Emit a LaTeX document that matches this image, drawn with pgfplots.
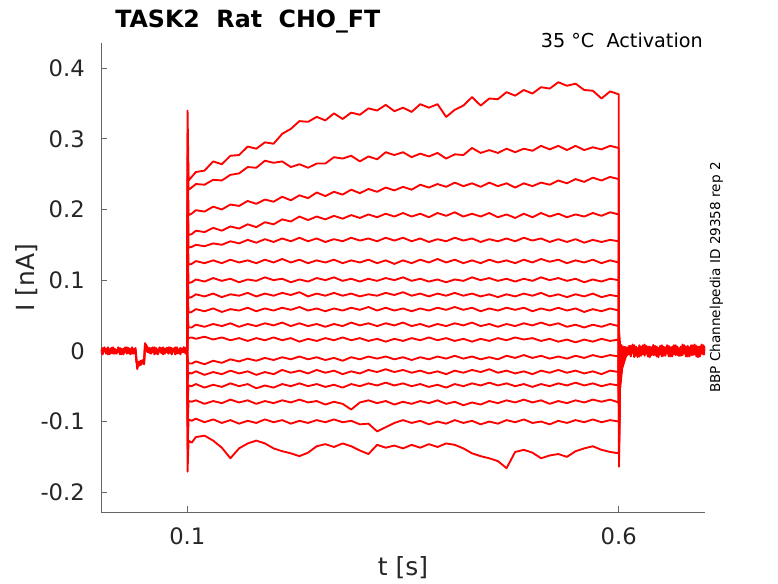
\documentclass[border=0pt]{standalone}
\usepackage{fontspec}
\setmainfont{DejaVu Sans}
\usepackage{pgfplots}
\usepackage{pgfplotstable}
\pgfplotsset{compat=1.18}

% pre-pulse baseline (three representative traces)
\pgfplotstableread{
t b1 b2 b3
0.000 0.003 -0.004 0.001
0.002 -0.002 0.004 -0.005
0.004 0.005 -0.001 0.003
0.006 -0.004 0.003 -0.002
0.008 0.002 -0.005 0.005
0.010 -0.005 0.002 -0.001
0.012 0.004 -0.003 0.004
0.014 -0.001 0.005 -0.004
0.016 0.003 -0.004 0.002
0.018 -0.004 0.001 -0.003
0.020 0.005 -0.002 0.004
0.022 -0.002 0.004 -0.005
0.024 0.003 -0.005 0.002
0.026 -0.005 0.003 -0.001
0.028 0.002 -0.001 0.005
0.030 -0.003 0.005 -0.004
0.032 0.004 -0.003 0.001
0.034 -0.001 0.002 -0.005
0.036 0.005 -0.004 0.003
0.038 -0.004 0.003 -0.002
0.040 0.002 -0.002 0.004
0.041 -0.012 -0.016 -0.010
0.042 -0.026 -0.019 -0.022
0.044 -0.015 -0.021 -0.017
0.046 -0.019 -0.014 -0.020
0.048 -0.013 -0.018 -0.015
0.050 -0.017 -0.012 -0.019
0.051 0.011 0.008 0.006
0.052 0.006 0.009 0.003
0.054 0.001 0.005 -0.002
0.056 0.004 -0.003 0.002
0.058 -0.003 0.004 -0.004
0.060 0.005 -0.002 0.003
0.062 -0.002 0.005 -0.005
0.064 0.004 -0.004 0.002
0.066 -0.005 0.002 -0.001
0.068 0.003 -0.001 0.005
0.070 -0.003 0.004 -0.003
0.072 0.005 -0.005 0.002
0.074 -0.001 0.003 -0.004
0.076 0.004 -0.002 0.004
0.078 -0.004 0.005 -0.002
0.080 0.002 -0.003 0.005
0.082 -0.005 0.004 -0.001
0.084 0.003 -0.001 0.003
0.086 -0.002 0.005 -0.005
0.088 0.005 -0.004 0.002
0.090 -0.003 0.002 -0.003
0.092 0.004 -0.005 0.004
0.094 -0.001 0.003 -0.002
0.096 0.005 -0.002 0.005
0.098 -0.004 0.004 -0.003
0.100 0.000 0.000 0.000
}\pretab

% 17 voltage steps, 0.1 s to 0.612 s
\pgfplotstableread{
t y1 y2 y3 y4 y5 y6 y7 y8 y9 y10 y11 y12 y13 y14 y15 y16 y17
0.1000 0 0 0 0 0 0 0 0 0 0 0 0 0 0 0 0 0
0.1003 0.340 0.308 0.276 0.244 0.212 0.180 0.148 0.116 0.084 0.053 0.021 -0.011 -0.043 -0.075 -0.107 -0.139 -0.171
0.1015 0.241 0.228 0.192 0.164 0.146 0.122 0.096 0.075 0.054 0.033 0.018 -0.018 -0.031 -0.049 -0.071 -0.097 -0.127
0.105 0.246 0.231 0.194 0.165 0.147 0.123 0.097 0.076 0.055 0.033 0.019 -0.018 -0.032 -0.050 -0.072 -0.099 -0.130
0.11 0.253 0.236 0.199 0.170 0.150 0.127 0.101 0.080 0.059 0.037 0.017 -0.015 -0.029 -0.047 -0.070 -0.096 -0.122
0.12 0.255 0.235 0.197 0.168 0.148 0.124 0.098 0.077 0.056 0.034 0.020 -0.019 -0.034 -0.052 -0.075 -0.101 -0.120
0.13 0.268 0.242 0.204 0.174 0.152 0.128 0.103 0.081 0.060 0.038 0.016 -0.014 -0.030 -0.048 -0.071 -0.097 -0.127
0.14 0.264 0.241 0.200 0.170 0.150 0.124 0.099 0.076 0.055 0.035 0.019 -0.017 -0.033 -0.051 -0.074 -0.102 -0.137
0.15 0.276 0.249 0.207 0.176 0.155 0.129 0.102 0.080 0.059 0.039 0.015 -0.012 -0.028 -0.046 -0.069 -0.098 -0.152
0.16 0.277 0.251 0.205 0.173 0.152 0.125 0.097 0.078 0.057 0.034 0.018 -0.015 -0.032 -0.050 -0.073 -0.103 -0.138
0.17 0.289 0.260 0.212 0.179 0.157 0.128 0.101 0.082 0.061 0.038 0.014 -0.011 -0.029 -0.047 -0.070 -0.099 -0.131
0.18 0.286 0.259 0.208 0.175 0.153 0.124 0.099 0.077 0.056 0.035 0.018 -0.014 -0.034 -0.053 -0.075 -0.102 -0.127
0.19 0.295 0.269 0.214 0.182 0.158 0.129 0.104 0.081 0.060 0.039 0.015 -0.010 -0.030 -0.049 -0.071 -0.097 -0.131
0.20 0.293 0.266 0.211 0.179 0.154 0.125 0.100 0.078 0.057 0.036 0.019 -0.013 -0.033 -0.052 -0.074 -0.101 -0.138
0.21 0.307 0.268 0.218 0.186 0.159 0.130 0.102 0.082 0.061 0.040 0.015 -0.009 -0.027 -0.047 -0.070 -0.098 -0.142
0.22 0.314 0.260 0.213 0.183 0.155 0.125 0.097 0.079 0.058 0.035 0.018 -0.012 -0.031 -0.050 -0.073 -0.103 -0.145
0.23 0.325 0.264 0.220 0.190 0.160 0.129 0.101 0.083 0.062 0.039 0.013 -0.008 -0.028 -0.046 -0.069 -0.099 -0.149
0.24 0.324 0.259 0.216 0.185 0.155 0.124 0.098 0.077 0.057 0.035 0.017 -0.012 -0.032 -0.050 -0.073 -0.102 -0.144
0.25 0.331 0.265 0.224 0.190 0.159 0.128 0.103 0.081 0.060 0.038 0.014 -0.009 -0.027 -0.047 -0.071 -0.098 -0.135
0.26 0.326 0.265 0.219 0.186 0.154 0.125 0.100 0.078 0.056 0.034 0.018 -0.013 -0.031 -0.051 -0.076 -0.101 -0.132
0.27 0.336 0.274 0.225 0.191 0.158 0.129 0.104 0.082 0.060 0.038 0.015 -0.010 -0.028 -0.048 -0.072 -0.097 -0.136
0.28 0.328 0.272 0.221 0.187 0.155 0.124 0.099 0.078 0.057 0.035 0.019 -0.014 -0.033 -0.052 -0.075 -0.101 -0.131
0.29 0.337 0.276 0.228 0.192 0.160 0.128 0.102 0.081 0.061 0.040 0.015 -0.009 -0.029 -0.047 -0.083 -0.099 -0.135
0.30 0.334 0.268 0.223 0.188 0.156 0.125 0.098 0.077 0.058 0.036 0.018 -0.012 -0.032 -0.050 -0.073 -0.104 -0.141
0.31 0.343 0.275 0.229 0.193 0.159 0.129 0.102 0.080 0.062 0.039 0.014 -0.008 -0.027 -0.046 -0.070 -0.103 -0.146
0.32 0.340 0.271 0.225 0.189 0.155 0.124 0.099 0.078 0.057 0.035 0.017 -0.011 -0.030 -0.049 -0.074 -0.114 -0.133
0.33 0.348 0.281 0.231 0.194 0.160 0.128 0.103 0.082 0.061 0.039 0.013 -0.008 -0.026 -0.045 -0.071 -0.108 -0.137
0.34 0.339 0.277 0.227 0.190 0.156 0.123 0.100 0.079 0.057 0.036 0.017 -0.012 -0.030 -0.049 -0.076 -0.102 -0.134
0.35 0.344 0.281 0.232 0.195 0.160 0.128 0.104 0.083 0.060 0.040 0.014 -0.009 -0.027 -0.046 -0.072 -0.098 -0.138
0.36 0.338 0.274 0.228 0.190 0.155 0.124 0.099 0.078 0.056 0.035 0.018 -0.013 -0.031 -0.050 -0.075 -0.102 -0.133
0.37 0.349 0.279 0.235 0.194 0.159 0.129 0.102 0.081 0.060 0.038 0.015 -0.009 -0.028 -0.047 -0.071 -0.099 -0.137
0.38 0.344 0.275 0.231 0.189 0.154 0.125 0.098 0.077 0.057 0.034 0.019 -0.012 -0.032 -0.051 -0.074 -0.104 -0.132
0.39 0.349 0.280 0.236 0.195 0.158 0.130 0.101 0.081 0.061 0.038 0.015 -0.008 -0.029 -0.048 -0.070 -0.100 -0.136
0.40 0.331 0.272 0.232 0.191 0.155 0.125 0.097 0.078 0.058 0.035 0.018 -0.011 -0.033 -0.052 -0.075 -0.103 -0.131
0.41 0.341 0.278 0.238 0.196 0.160 0.129 0.101 0.082 0.062 0.039 0.014 -0.007 -0.028 -0.047 -0.072 -0.098 -0.133
0.42 0.347 0.277 0.233 0.190 0.156 0.124 0.099 0.078 0.058 0.036 0.017 -0.011 -0.031 -0.050 -0.077 -0.102 -0.138
0.43 0.359 0.287 0.237 0.194 0.159 0.128 0.104 0.081 0.061 0.040 0.013 -0.008 -0.027 -0.046 -0.073 -0.099 -0.145
0.44 0.347 0.280 0.232 0.190 0.154 0.124 0.100 0.077 0.056 0.035 0.017 -0.012 -0.030 -0.049 -0.076 -0.104 -0.149
0.45 0.357 0.284 0.238 0.195 0.158 0.129 0.103 0.080 0.060 0.038 0.014 -0.009 -0.026 -0.045 -0.071 -0.100 -0.152
0.46 0.356 0.280 0.233 0.189 0.155 0.125 0.099 0.076 0.057 0.034 0.018 -0.012 -0.031 -0.049 -0.074 -0.103 -0.156
0.47 0.366 0.286 0.237 0.193 0.159 0.128 0.102 0.080 0.061 0.038 0.015 -0.007 -0.028 -0.046 -0.070 -0.098 -0.166
0.48 0.361 0.281 0.231 0.188 0.155 0.124 0.098 0.077 0.058 0.035 0.019 -0.010 -0.032 -0.050 -0.073 -0.101 -0.143
0.49 0.369 0.286 0.237 0.194 0.160 0.129 0.102 0.081 0.061 0.039 0.016 -0.006 -0.029 -0.047 -0.069 -0.097 -0.140
0.50 0.364 0.283 0.233 0.189 0.156 0.125 0.099 0.078 0.056 0.036 0.018 -0.010 -0.033 -0.051 -0.073 -0.102 -0.144
0.51 0.373 0.290 0.238 0.195 0.159 0.130 0.104 0.082 0.060 0.040 0.014 -0.007 -0.028 -0.047 -0.070 -0.100 -0.152
0.52 0.371 0.285 0.235 0.190 0.154 0.126 0.100 0.077 0.057 0.036 0.017 -0.011 -0.031 -0.050 -0.075 -0.104 -0.148
0.53 0.380 0.290 0.241 0.194 0.158 0.129 0.103 0.080 0.061 0.039 0.013 -0.008 -0.027 -0.046 -0.071 -0.099 -0.146
0.54 0.375 0.284 0.237 0.189 0.154 0.124 0.099 0.076 0.057 0.034 0.016 -0.011 -0.031 -0.049 -0.074 -0.102 -0.150
0.55 0.378 0.290 0.243 0.193 0.158 0.128 0.102 0.080 0.060 0.037 0.012 -0.007 -0.028 -0.045 -0.070 -0.098 -0.142
0.56 0.369 0.284 0.239 0.190 0.153 0.125 0.097 0.077 0.055 0.033 0.016 -0.010 -0.032 -0.049 -0.073 -0.101 -0.138
0.57 0.368 0.288 0.245 0.195 0.157 0.129 0.101 0.081 0.059 0.037 0.013 -0.006 -0.029 -0.046 -0.069 -0.097 -0.135
0.58 0.357 0.285 0.241 0.191 0.154 0.124 0.098 0.076 0.056 0.034 0.017 -0.009 -0.033 -0.050 -0.072 -0.101 -0.140
0.59 0.367 0.290 0.246 0.196 0.157 0.128 0.102 0.079 0.060 0.038 0.014 -0.006 -0.028 -0.047 -0.069 -0.098 -0.143
0.60 0.363 0.287 0.243 0.193 0.155 0.125 0.100 0.077 0.057 0.035 0.016 -0.008 -0.030 -0.049 -0.073 -0.100 -0.145
0.6003 -0.164 -0.152 -0.140 -0.128 -0.116 -0.103 -0.091 -0.079 -0.067 -0.055 -0.043 -0.031 -0.019 -0.006 0.006 0.018 0.030
0.6015 -0.055 -0.048 -0.042 -0.036 -0.031 -0.026 -0.022 -0.018 -0.014 -0.011 -0.008 -0.005 -0.002 0.001 0.004 0.007 0.010
0.604 -0.025 -0.021 -0.018 -0.015 -0.013 -0.011 -0.009 -0.007 -0.006 -0.004 -0.003 -0.002 -0.001 0.001 0.002 0.004 0.006
0.608 -0.009 -0.008 -0.007 -0.006 -0.005 -0.004 -0.003 -0.003 -0.002 -0.001 -0.001 0.000 0.001 0.002 0.003 0.004 0.005
0.612 0.004 -0.003 0.002 -0.004 0.003 -0.002 0.005 -0.001 0.002 -0.005 0.003 -0.002 0.004 -0.003 0.001 0.005 -0.004
}\steptab

% post-pulse baseline
\pgfplotstableread{
t b1 b2 b3
0.612 0.004 -0.006 0.008
0.614 -0.008 0.007 -0.004
0.616 0.009 -0.003 0.005
0.618 -0.005 0.008 -0.009
0.620 0.006 -0.007 0.003
0.622 -0.009 0.004 -0.006
0.624 0.007 -0.008 0.008
0.626 -0.003 0.006 -0.007
0.628 0.008 -0.005 0.004
0.630 -0.007 0.009 -0.003
0.632 0.005 -0.004 0.007
0.634 -0.008 0.006 -0.008
0.636 0.006 -0.009 0.004
0.638 -0.004 0.005 -0.006
0.640 0.008 -0.006 0.008
0.642 -0.006 0.007 -0.004
0.644 0.004 -0.008 0.006
0.646 -0.009 0.004 -0.007
0.648 0.007 -0.005 0.003
0.650 -0.005 0.008 -0.008
0.652 0.006 -0.007 0.005
0.654 -0.007 0.005 -0.003
0.656 0.008 -0.004 0.007
0.658 -0.004 0.007 -0.008
0.660 0.005 -0.008 0.004
0.662 -0.008 0.006 -0.005
0.664 0.007 -0.005 0.008
0.666 -0.005 0.008 -0.006
0.668 0.006 -0.006 0.003
0.670 -0.007 0.004 -0.007
0.672 0.004 -0.007 0.006
0.674 -0.006 0.009 -0.004
0.676 0.008 -0.004 0.007
0.678 -0.005 0.006 -0.008
0.680 0.007 -0.008 0.005
0.682 -0.008 0.005 -0.005
0.684 0.005 -0.006 0.008
0.686 -0.006 0.008 -0.004
0.688 0.009 -0.005 0.006
0.690 -0.004 0.007 -0.008
0.692 0.006 -0.009 0.004
0.694 -0.008 0.006 -0.006
0.696 0.007 -0.004 0.009
0.698 -0.005 0.008 -0.005
0.700 0.006 -0.006 0.007
}\posttab

\begin{document}
\begin{tikzpicture}
\path (-75.75pt,-53.25pt) rectangle (507.75pt,384pt);
\begin{axis}[
  name=ax, at={(0,0)}, anchor=south west,
  scale only axis, width=453pt, height=351.75pt,
  xmin=0, xmax=0.7, ymin=-0.228, ymax=0.4355,
  axis x line*=bottom, axis y line*=left,
  xtick={0.1,0.6}, xticklabels={0.1,0.6},
  ytick={-0.2,-0.1,0,0.1,0.2,0.3,0.4},
  yticklabels={-0.2,-0.1,0,0.1,0.2,0.3,0.4},
  tick align=inside, major tick length=4.5pt,
  axis line style={black!60, line width=0.6pt},
  tick style={black!60, line width=0.6pt},
  ticklabel style={font=\fontsize{17}{20}\selectfont, text=black!85},
  xticklabel style={anchor=north, inner sep=0pt, yshift=-11.25pt},
  yticklabel style={anchor=east, inner sep=0pt, xshift=-12pt},
  trace/.style={color=red, line width=1.4pt, line join=round, mark=none},
]
\pgfplotsinvokeforeach{1,2,3}{
  \addplot[trace] table[x=t, y=b#1] {\pretab};
}
\pgfplotsinvokeforeach{1,...,17}{
  \addplot[trace] table[x=t, y=y#1] {\steptab};
}
\pgfplotsinvokeforeach{1,2,3}{
  \addplot[trace] table[x=t, y=b#1] {\posttab};
}
\end{axis}
\node[anchor=base west, inner sep=0pt, font=\bfseries\fontsize{17.8}{21}\selectfont]
  at ([xshift=10.5pt, yshift=12pt]ax.north west) {TASK2\ \ Rat\ \ CHO\_FT};
\node[anchor=base east, inner sep=0pt, font=\fontsize{14.4}{17}\selectfont]
  at ([xshift=-1.5pt, yshift=-3pt]ax.north east) {35 °C\ \ Activation};
\node[rotate=90, anchor=center, inner sep=0pt, font=\fontsize{10.2}{12}\selectfont]
  at ([xshift=8.6pt]ax.east) {BBP Channelpedia ID 29358 rep 2};
\node[rotate=90, anchor=base, inner sep=0pt, text=black!85, font=\fontsize{18.7}{22}\selectfont]
  at ([xshift=-49.5pt]ax.west) {I [nA]};
\node[anchor=base, inner sep=0pt, text=black!85, font=\fontsize{18.7}{22}\selectfont]
  at ([yshift=-47.25pt]ax.south) {t [s]};
\end{tikzpicture}
\end{document}
